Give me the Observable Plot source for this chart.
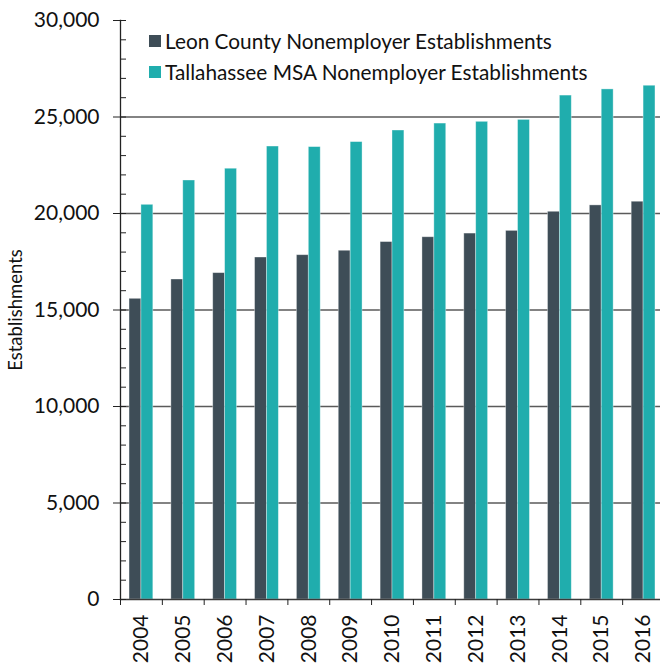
<!DOCTYPE html>
<html>
<head>
<meta charset="utf-8">
<script src="https://cdn.jsdelivr.net/npm/d3@7"></script>
<script src="https://cdn.jsdelivr.net/npm/@observablehq/plot@0.6"></script>
<style>
  html, body { margin: 0; padding: 0; background: #fff; overflow: hidden; }
  #wrap { position: relative; width: 660px; height: 663px; }
  #legend { position: absolute; left: 149px; top: 25px; font-family: Lato, sans-serif; font-size: 20.8px; color: #111; }
  .row { display: flex; align-items: center; height: 31px; white-space: nowrap; }
  .sw { width: 12px; height: 12px; margin-right: 4px; }
</style>
</head>
<body>
<div id="wrap"></div>
<script>
const years = ["2004","2005","2006","2007","2008","2009","2010","2011","2012","2013","2014","2015","2016"];
const leon = [15580, 16580, 16910, 17720, 17840, 18070, 18520, 18770, 18960, 19100, 20090, 20420, 20610];
const msa = [20450, 21710, 22320, 23470, 23440, 23700, 24300, 24660, 24750, 24850, 26110, 26430, 26620];
const seriesNames = ["Leon County Nonemployer Establishments", "Tallahassee MSA Nonemployer Establishments"];
const colors = ["#3e4d57", "#20adad"];
const majorTicks = [0, 5000, 10000, 15000, 20000, 25000, 30000];
const minorTicks = d3.range(0, 30001, 1000);
const gridTicks = [5000, 10000, 15000, 20000, 25000];

const data = years.map((y, i) => ({year: y, leon: leon[i], msa: msa[i]}));
const band = 544 / years.length;
const half = band / 2;
const bw = 11.9;
const font = "Lato, sans-serif";

const chart = Plot.plot({
  width: 660,
  height: 663,
  marginLeft: 120,
  marginRight: 0,
  marginTop: 20,
  marginBottom: 64,
  style: {fontFamily: font, color: "#111", background: "#fff", overflow: "visible"},
  x: {domain: years, range: [120, 664], padding: 0, round: false},
  y: {domain: [0, 30000], range: [599, 20]},
  marks: [
    Plot.ruleY(gridTicks, {stroke: "#5a5a5a", strokeWidth: 1.5}),
    Plot.barY(data, {x: "year", y: "leon", fill: colors[0], insetLeft: half - bw, insetRight: half, stroke: "#ffffff", strokeOpacity: 0.45, strokeWidth: 0.8}),
    Plot.barY(data, {x: "year", y: "msa", fill: colors[1], insetLeft: half, insetRight: half - bw, stroke: "#ffffff", strokeOpacity: 0.45, strokeWidth: 0.8}),
    Plot.ruleY([0], {stroke: "#3a3a3a", strokeWidth: 1.3}),
    Plot.frame({anchor: "left", stroke: "#222", strokeWidth: 1.3}),
    Plot.axisY({ticks: minorTicks, tickSize: -6, text: null, label: null, stroke: "#222"}),
    Plot.axisY({ticks: majorTicks, tickSize: 7, tickPadding: 14, tickFormat: d3.format(","), fontSize: 21, label: null, stroke: "#222"}),
    Plot.axisY({ticks: [], label: "Establishments", labelAnchor: "center", labelArrow: "none", labelOffset: 112, fontSize: 18.5}),
    Plot.axisX({tickSize: 6, text: null, label: null, dx: -half, stroke: "#222"}),
    Plot.axisX({tickSize: 0, tickPadding: 15, tickRotate: -90, fontSize: 21, label: null})
  ]
});

const wrap = document.getElementById("wrap");
wrap.appendChild(chart);
const legend = document.createElement("div");
legend.id = "legend";
seriesNames.forEach((name, i) => {
  const row = document.createElement("div");
  row.className = "row";
  const sw = document.createElement("span");
  sw.className = "sw";
  sw.style.background = colors[i];
  const t = document.createElement("span");
  t.textContent = name;
  row.appendChild(sw);
  row.appendChild(t);
  legend.appendChild(row);
});
wrap.appendChild(legend);
</script>
</body>
</html>
